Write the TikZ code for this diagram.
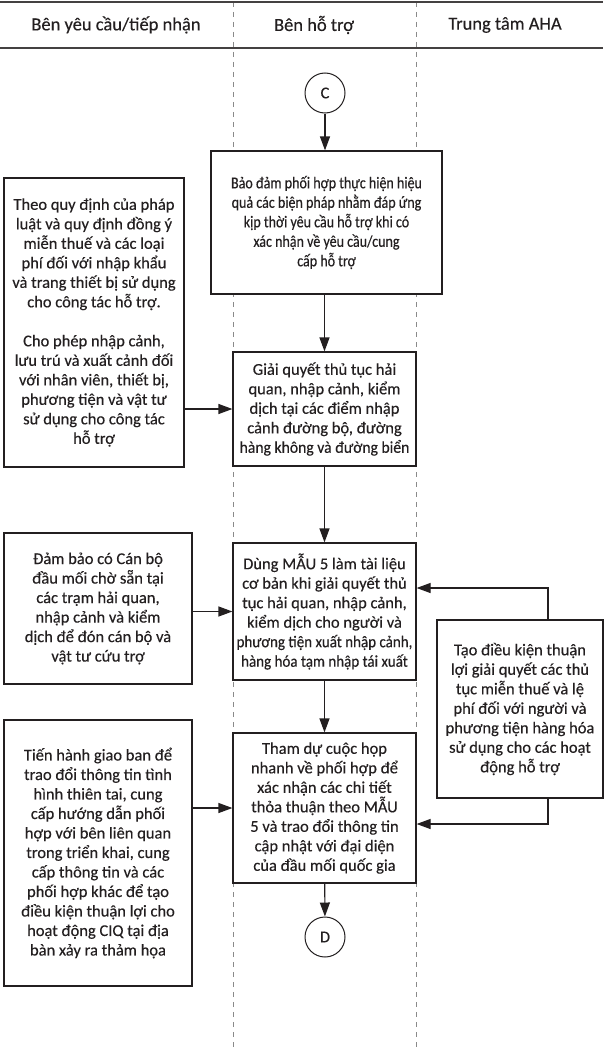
\documentclass[tikz,border=0pt]{standalone}
\usepackage{fontspec}
\setmainfont{Carlito}[FakeBold=0.3]
\newfontfamily\narrowA{Carlito}[FakeStretch=0.85,FakeBold=0.3]
\newfontfamily\narrowB{Carlito}[FakeStretch=0.91,FakeBold=0.3]
\newfontfamily\narrowC{Carlito}[FakeStretch=0.95,FakeBold=0.3]
\usetikzlibrary{arrows.meta}
\definecolor{ink}{HTML}{231F20}
\definecolor{lanegray}{HTML}{8A8A8A}
\begin{document}
\begin{tikzpicture}[x=1pt,y=-1pt,
  font=\fontsize{16.5}{19.5}\selectfont,
  box/.style={draw=ink, line width=1.2pt, fill=white, align=center, inner sep=0pt, text=ink},
  flow/.style={draw=ink, line width=1.2pt, -{Triangle[length=14pt,width=10pt]}},
  conn/.style={circle, draw=ink, line width=1pt, fill=white, minimum size=40pt, inner sep=0pt, text=ink},
  lanesep/.style={draw=lanegray, line width=0.8pt, dash pattern=on 5pt off 5pt},
  rule/.style={draw=ink!85, line width=2pt},
  head/.style={text=ink, inner sep=0pt, font=\fontsize{18.5}{22}\selectfont}]

\useasboundingbox (0,0) rectangle (603,1049);
\fill[white] (0,0) rectangle (603,1049);

% swimlane separators and header rules
\draw[lanesep] (233,2) -- (233,1049);
\draw[lanesep] (416,2) -- (416,1049);
\draw[rule] (0,2) -- (603,2);
\draw[rule] (0,48) -- (603,48);

\node[head] (h1) at (116,25) {Bên yêu cầu/tiếp nhận};
\node[head] (h2) at (314,25) {Bên hỗ trợ};
\node[head] (h3) at (505,25) {Trung tâm AHA};

% connectors
\node[conn] (C) at (325,93) {C};
\node[conn] (D) at (325,937) {D};

% main column
\node[box, minimum width=231pt, minimum height=143pt,
      font=\narrowA\fontsize{16.5}{19.5}\selectfont] (b1) at (326.5,222.5)
  {Bảo đảm phối hợp thực hiện hiệu\\quả các biện pháp nhằm đáp ứng\\kịp thời yêu cầu hỗ trợ khi có\\xác nhận về yêu cầu/cung\\cấp hỗ trợ};
\node[box, minimum width=183pt, minimum height=114pt] (b2) at (324.5,409)
  {Giải quyết thủ tục hải\\quan, nhập cảnh, kiểm\\dịch tại các điểm nhập\\cảnh đường bộ, đường\\{\narrowC hàng không và đường biển}};
\node[box, minimum width=183pt, minimum height=137pt] (b3) at (324.5,611.5)
  {Dùng MẪU 5 làm tài liệu\\cơ bản khi giải quyết thủ\\tục hải quan, nhập cảnh,\\kiểm dịch cho người và\\{\narrowB phương tiện xuất nhập cảnh,}\\{\narrowB hàng hóa tạm nhập tái xuất}};
\node[box, minimum width=183pt, minimum height=150pt] (b4) at (324.5,808)
  {Tham dự cuộc họp\\nhanh về phối hợp để\\xác nhận các chi tiết\\thỏa thuận theo MẪU\\5 và trao đổi thông tin\\cập nhật với đại diện\\của đầu mối quốc gia};

% left column
\node[box, minimum width=180pt, minimum height=289pt] (l1) at (94,322.5)
  {Theo quy định của pháp\\luật và quy định đồng ý\\miễn thuế và các loại\\phí đối với nhập khẩu\\và trang thiết bị sử dụng\\cho công tác hỗ trợ.\\[19.5pt]Cho phép nhập cảnh,\\lưu trú và xuất cảnh đối\\với nhân viên, thiết bị,\\phương tiện và vật tư\\sử dụng cho công tác\\hỗ trợ};
\node[box, minimum width=188pt, minimum height=151pt] (l2) at (98,608.5)
  {Đảm bảo có Cán bộ\\đầu mối chờ sẵn tại\\các trạm hải quan,\\nhập cảnh và kiểm\\dịch để đón cán bộ và\\vật tư cứu trợ};
\node[box, minimum width=188pt, minimum height=266pt] (l3) at (98,853)
  {Tiến hành giao ban để\\trao đổi thông tin tình\\hình thiên tai, cung\\cấp hướng dẫn phối\\hợp với bên liên quan\\trong triển khai, cung\\cấp thông tin và các\\phối hợp khác để tạo\\điều kiện thuận lợi cho\\hoạt động CIQ tại địa\\bàn xảy ra thảm họa};

% right column
\node[box, minimum width=166pt, minimum height=178pt] (r1) at (520,709)
  {Tạo điều kiện thuận\\lợi giải quyết các thủ\\tục miễn thuế và lệ\\phí đối với người và\\phương tiện hàng hóa\\sử dụng cho các hoạt\\động hỗ trợ};

% vertical flow
\draw[flow] (C) -- (C |- b1.north);
\draw[flow] (b2.north |- b1.south) -- (b2.north);
\draw[flow] (b2) -- (b3);
\draw[flow] (b3) -- (b4);
\draw[flow] (b4) -- (D);

% inputs from the left
\draw[flow] (b2.west -| l1.east) -- (b2.west);
\draw[flow] (b3.west -| l2.east) -- (b3.west);
\draw[flow] (b4.west -| l3.east) -- (b4.west);

% inputs from the right
\coordinate (rt) at (548,588);
\coordinate (rb) at (548,824);
\draw[flow] (r1.north -| rt) -- (rt) -- (rt -| b3.east);
\draw[flow] (r1.south -| rb) -- (rb) -- (rb -| b4.east);
\end{tikzpicture}
\end{document}
